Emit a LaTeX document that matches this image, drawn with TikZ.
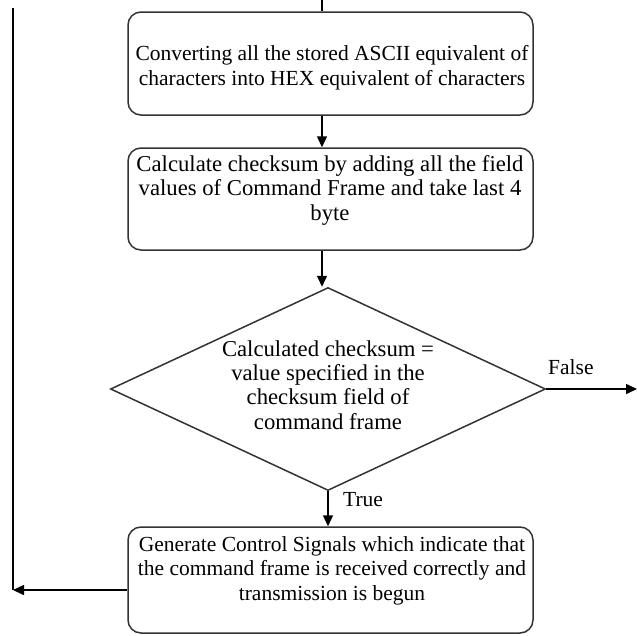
\documentclass[tikz,border=0pt]{standalone}
\usepackage{fontspec}
\setmainfont{Liberation Serif}
\usetikzlibrary{shapes.geometric,arrows.meta,calc}
\begin{document}
\begin{tikzpicture}[x=1pt,y=-1pt,
  proc/.style={draw=black!80, line width=1.5pt, rounded corners=13pt, minimum width=405pt, inner sep=0pt},
  dec/.style={draw=black!80, line width=1.5pt, diamond, minimum width=435pt, minimum height=203pt, inner sep=0pt},
  txt/.style={align=center, inner sep=0pt, anchor=base, font=\fontsize{21.5}{24.3}\selectfont},
  widetxt/.style={txt, font=\fontsize{22.7}{24.3}\selectfont},
  lbl/.style={inner sep=0pt, anchor=base west, font=\fontsize{21.5}{24.3}\selectfont},
  conn/.style={draw=black, line width=1.5pt},
  arr/.style={conn, -{Triangle[length=11pt,width=10pt]}}]
\useasboundingbox (0,0) rectangle (637,635);
\node[proc, minimum height=103pt] (b1) at (330.5,63.5) {};
\node[proc, minimum height=102pt] (b2) at (330.5,199) {};
\node[dec] (d) at (328,389) {};
\node[proc, minimum height=106pt] (b3) at (330.5,580) {};
\node[txt] (t1) at (332,85) {Converting all the stored ASCII equivalent of\\characters into HEX equivalent of characters};
\node[widetxt] (t2) at (330,220) {Calculate checksum by adding all the field\\values of Command Frame and take last 4\\byte};
\node[widetxt] (t3) at (328,429) {Calculated checksum =\\value specified in the\\checksum field of\\command frame};
\node[txt] (t4) at (332,600) {Generate Control Signals which indicate that\\the command frame is received correctly and\\transmission is begun};
\node[lbl] (lf) at (548,374) {False};
\node[lbl] (lt) at (343,506) {True};
\coordinate (top) at (322,0);
\coordinate (vt) at (13,8);
\coordinate (vb) at (13,590);
\coordinate (fe) at (637,389);
\draw[conn] (top) -- (top |- b1.north);
\draw[arr] (top |- b1.south) -- (top |- b2.north);
\draw[arr] (top |- b2.south) -- (top |- d.north);
\draw[arr] (d.south) -- (d.south |- b3.north);
\draw[arr] (d.east) -- (fe);
\draw[conn] (vt) -- (vb);
\draw[arr] (b3.west |- vb) -- (vb);
\end{tikzpicture}
\end{document}
